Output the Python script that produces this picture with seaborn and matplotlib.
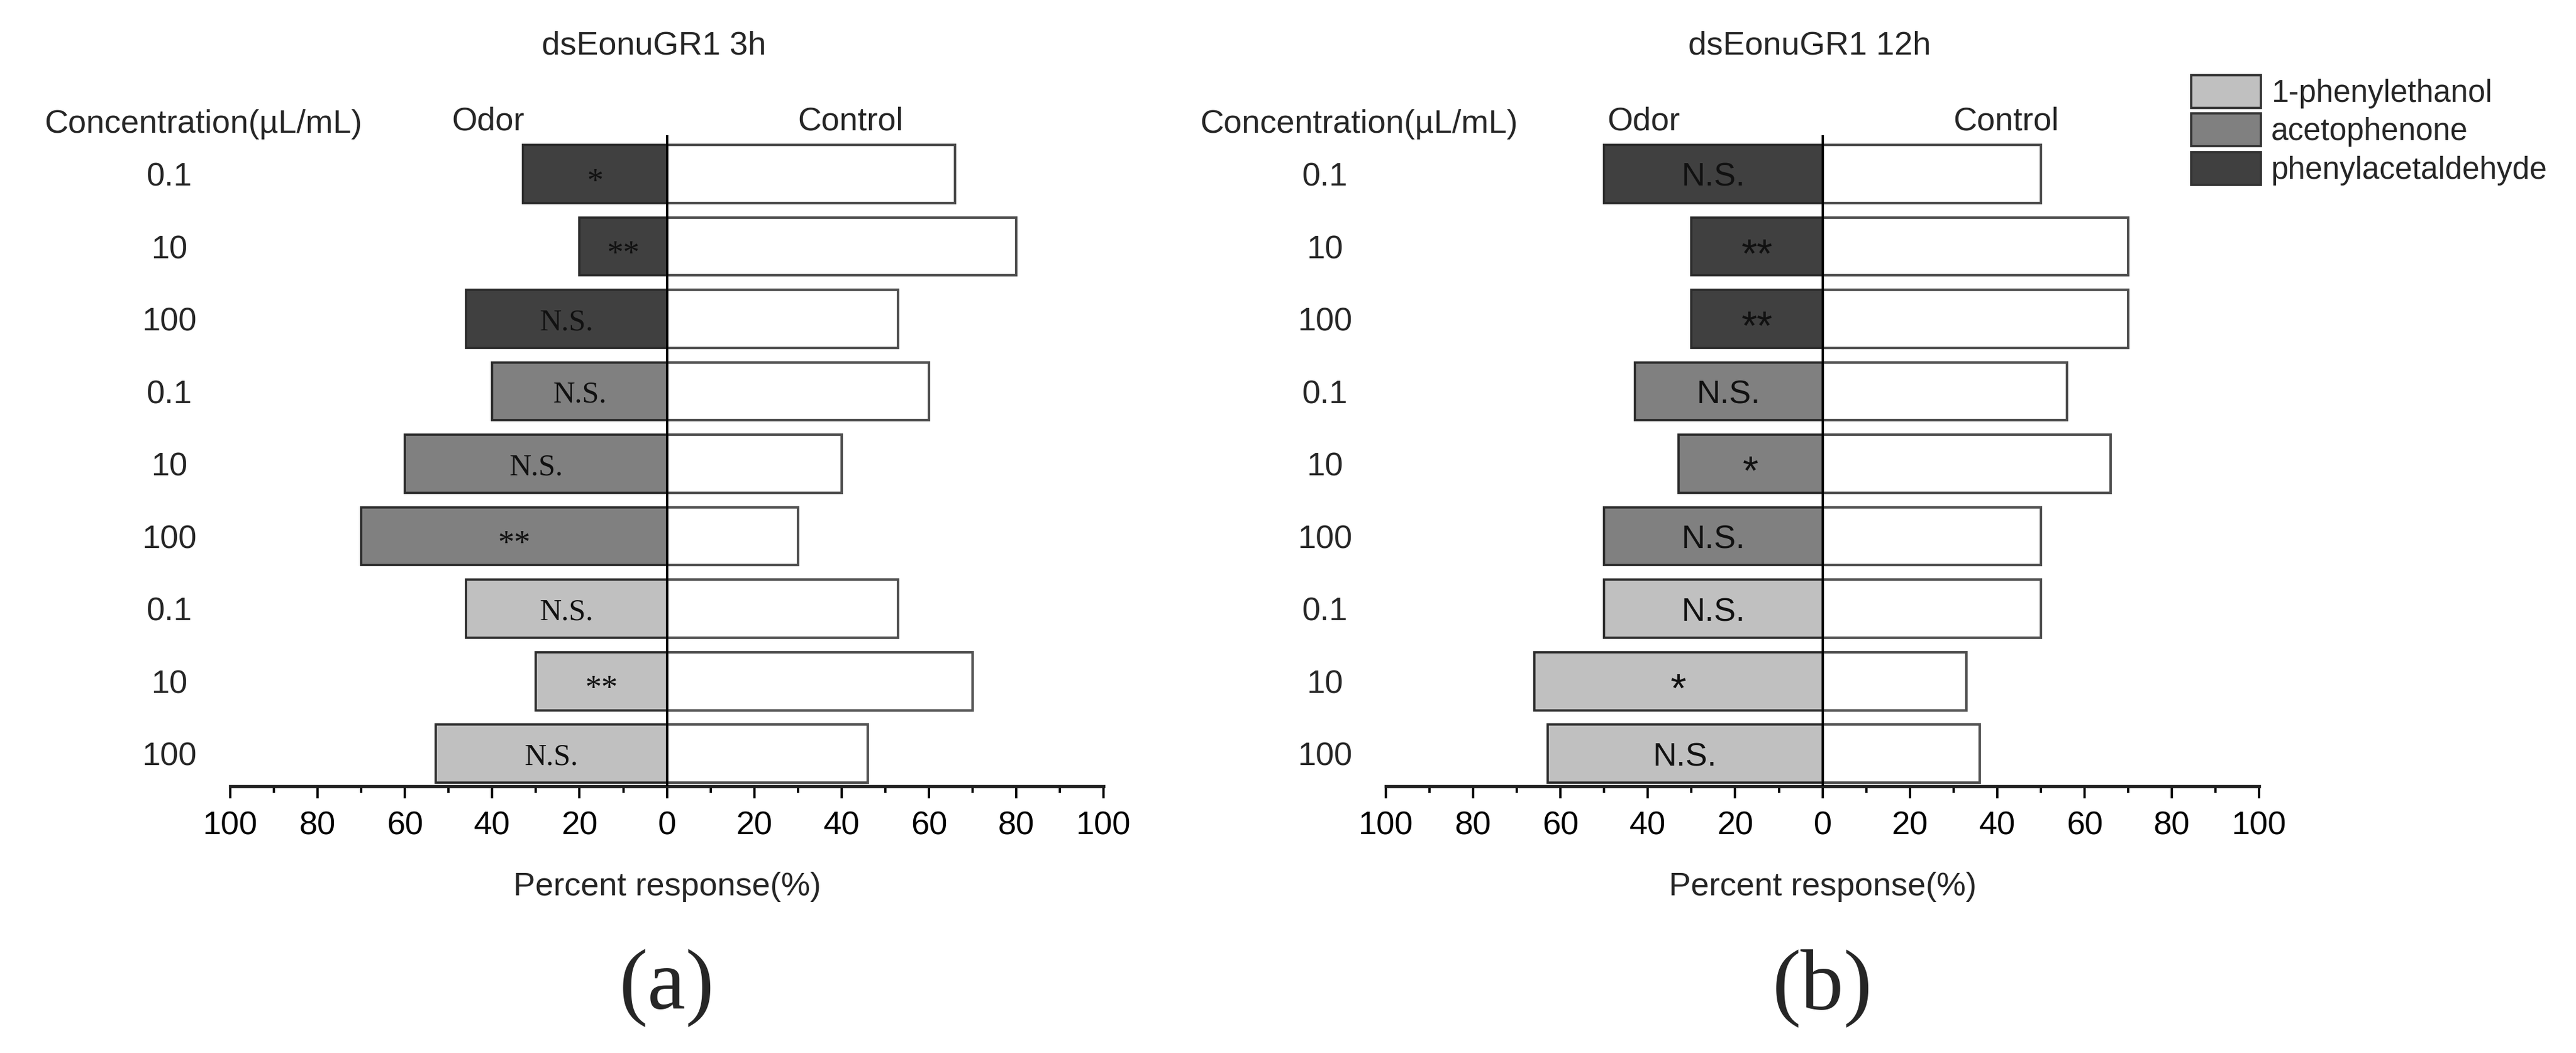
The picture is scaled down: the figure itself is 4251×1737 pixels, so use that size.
import matplotlib
matplotlib.use("Agg")
import matplotlib.pyplot as plt
import matplotlib.patches as mpatches
import numpy as np
import seaborn as sns
import pandas as pd

sns.set_theme(style="ticks")
plt.rcParams['font.family'] = ['Liberation Sans', 'DejaVu Sans']

# rows from top to bottom
concentrations = ["0.1", "10", "100", "0.1", "10", "100", "0.1", "10", "100"]
chemicals = ["phenylacetaldehyde"] * 3 + ["acetophenone"] * 3 + ["1-phenylethanol"] * 3

odor_3h = [33, 20, 46, 40, 60, 70, 46, 30, 53]
control_3h = [66, 80, 53, 60, 40, 30, 53, 70, 46]
sig_3h = ["*", "**", "N.S.", "N.S.", "N.S.", "**", "N.S.", "**", "N.S."]

odor_12h = [50, 30, 30, 43, 33, 50, 50, 66, 63]
control_12h = [50, 70, 70, 56, 66, 50, 50, 33, 36]
sig_12h = ["N.S.", "**", "**", "N.S.", "*", "N.S.", "N.S.", "*", "N.S."]

legend_order = ["1-phenylethanol", "acetophenone", "phenylacetaldehyde"]
palette = {"1-phenylethanol": "#c0c0c0",
           "acetophenone": "#808080",
           "phenylacetaldehyde": "#404040"}

rows = [f"r{i}" for i in range(len(concentrations))]


def draw_panel(ax, odor, control, sig, title, tag, sig_font, ns_size, star_size, star_shift):
    df = pd.DataFrame({"row": rows, "chemical": chemicals,
                       "odor": [-v for v in odor], "control": control})
    sns.barplot(data=df, x="odor", y="row", hue="chemical", order=rows,
                hue_order=legend_order, palette=palette, dodge=False,
                width=0.8, saturation=1, edgecolor="#2b2b2b", linewidth=0.9,
                legend=False, orient="h", ax=ax)
    sns.barplot(data=df, x="control", y="row", order=rows, color="white",
                width=0.8, saturation=1, edgecolor="#505050", linewidth=1.0,
                orient="h", ax=ax)

    ax.set_xlim(-100, 100)
    ax.set_ylim(8.45, -0.535)
    ax.axvline(0, color="black", lw=0.9, zorder=5)

    major = np.arange(-100, 101, 20)
    ax.set_xticks(major)
    ax.set_xticklabels([str(abs(v)) for v in major], fontsize=13)
    ax.set_xticks(np.arange(-90, 100, 20), minor=True)
    ax.tick_params(axis="x", which="major", length=4.8, width=0.9, pad=5, colors="black")
    ax.tick_params(axis="x", which="minor", length=2.6, width=0.9, colors="black")

    ax.set_yticks(range(len(rows)))
    ax.set_yticklabels(concentrations, fontsize=13)
    ax.tick_params(axis="y", length=0, pad=24)
    for lbl in ax.get_yticklabels():
        lbl.set_horizontalalignment("center")

    sns.despine(ax=ax, left=True)
    ax.spines["bottom"].set_linewidth(1.3)
    ax.spines["bottom"].set_color("#222222")

    ax.set_xlabel("Percent response(%)", fontsize=13, labelpad=12)
    ax.set_ylabel("")

    # significance marks inside the odor bars
    for i, (v, s) in enumerate(zip(odor, sig)):
        if s.startswith("*"):
            ax.text(-v / 2, i + star_shift, s, ha="center", va="center",
                    fontsize=star_size, family=sig_font, color="#111111", zorder=6)
        else:
            ax.text(-v / 2, i + 0.05, s, ha="center", va="center",
                    fontsize=ns_size, family=sig_font, color="#111111", zorder=6)

    ax.text(-41, -0.72, "Odor", ha="center", va="center", fontsize=13)
    ax.text(42, -0.72, "Control", ha="center", va="center", fontsize=13)
    ax.text(-0.031, 1.017, "Concentration(\u00b5L/mL)", transform=ax.transAxes,
            ha="center", va="center", fontsize=13)
    ax.text(0.485, 1.137, title, transform=ax.transAxes, ha="center",
            va="center", fontsize=13)
    ax.text(0.5, -0.31, tag, transform=ax.transAxes, ha="center",
            va="center", fontsize=34, family=["Liberation Serif", "DejaVu Serif"])


fig = plt.figure(figsize=(14.17, 5.79), dpi=300)
ax_a = fig.add_axes([0.0894, 0.2533, 0.339, 0.6183])
ax_b = fig.add_axes([0.538, 0.2533, 0.339, 0.6183])

draw_panel(ax_a, odor_3h, control_3h, sig_3h, "dsEonuGR1 3h", "(a)",
           ["Liberation Serif", "DejaVu Serif"], 12, 13, 0.12)
draw_panel(ax_b, odor_12h, control_12h, sig_12h, "dsEonuGR1 12h", "(b)",
           ["Liberation Sans", "DejaVu Sans"], 13, 16, 0.14)

handles = [mpatches.Patch(facecolor=palette[c], edgecolor="#333333", lw=0.9, label=c)
           for c in legend_order]
fig.legend(handles=handles, loc="upper left", bbox_to_anchor=(0.8445, 0.9436),
           frameon=False, fontsize=12.3, borderpad=0, handlelength=2.25,
           handleheight=1.25, labelspacing=0.16, handletextpad=0.33)

fig.savefig("out.png", dpi=300, facecolor="white")
